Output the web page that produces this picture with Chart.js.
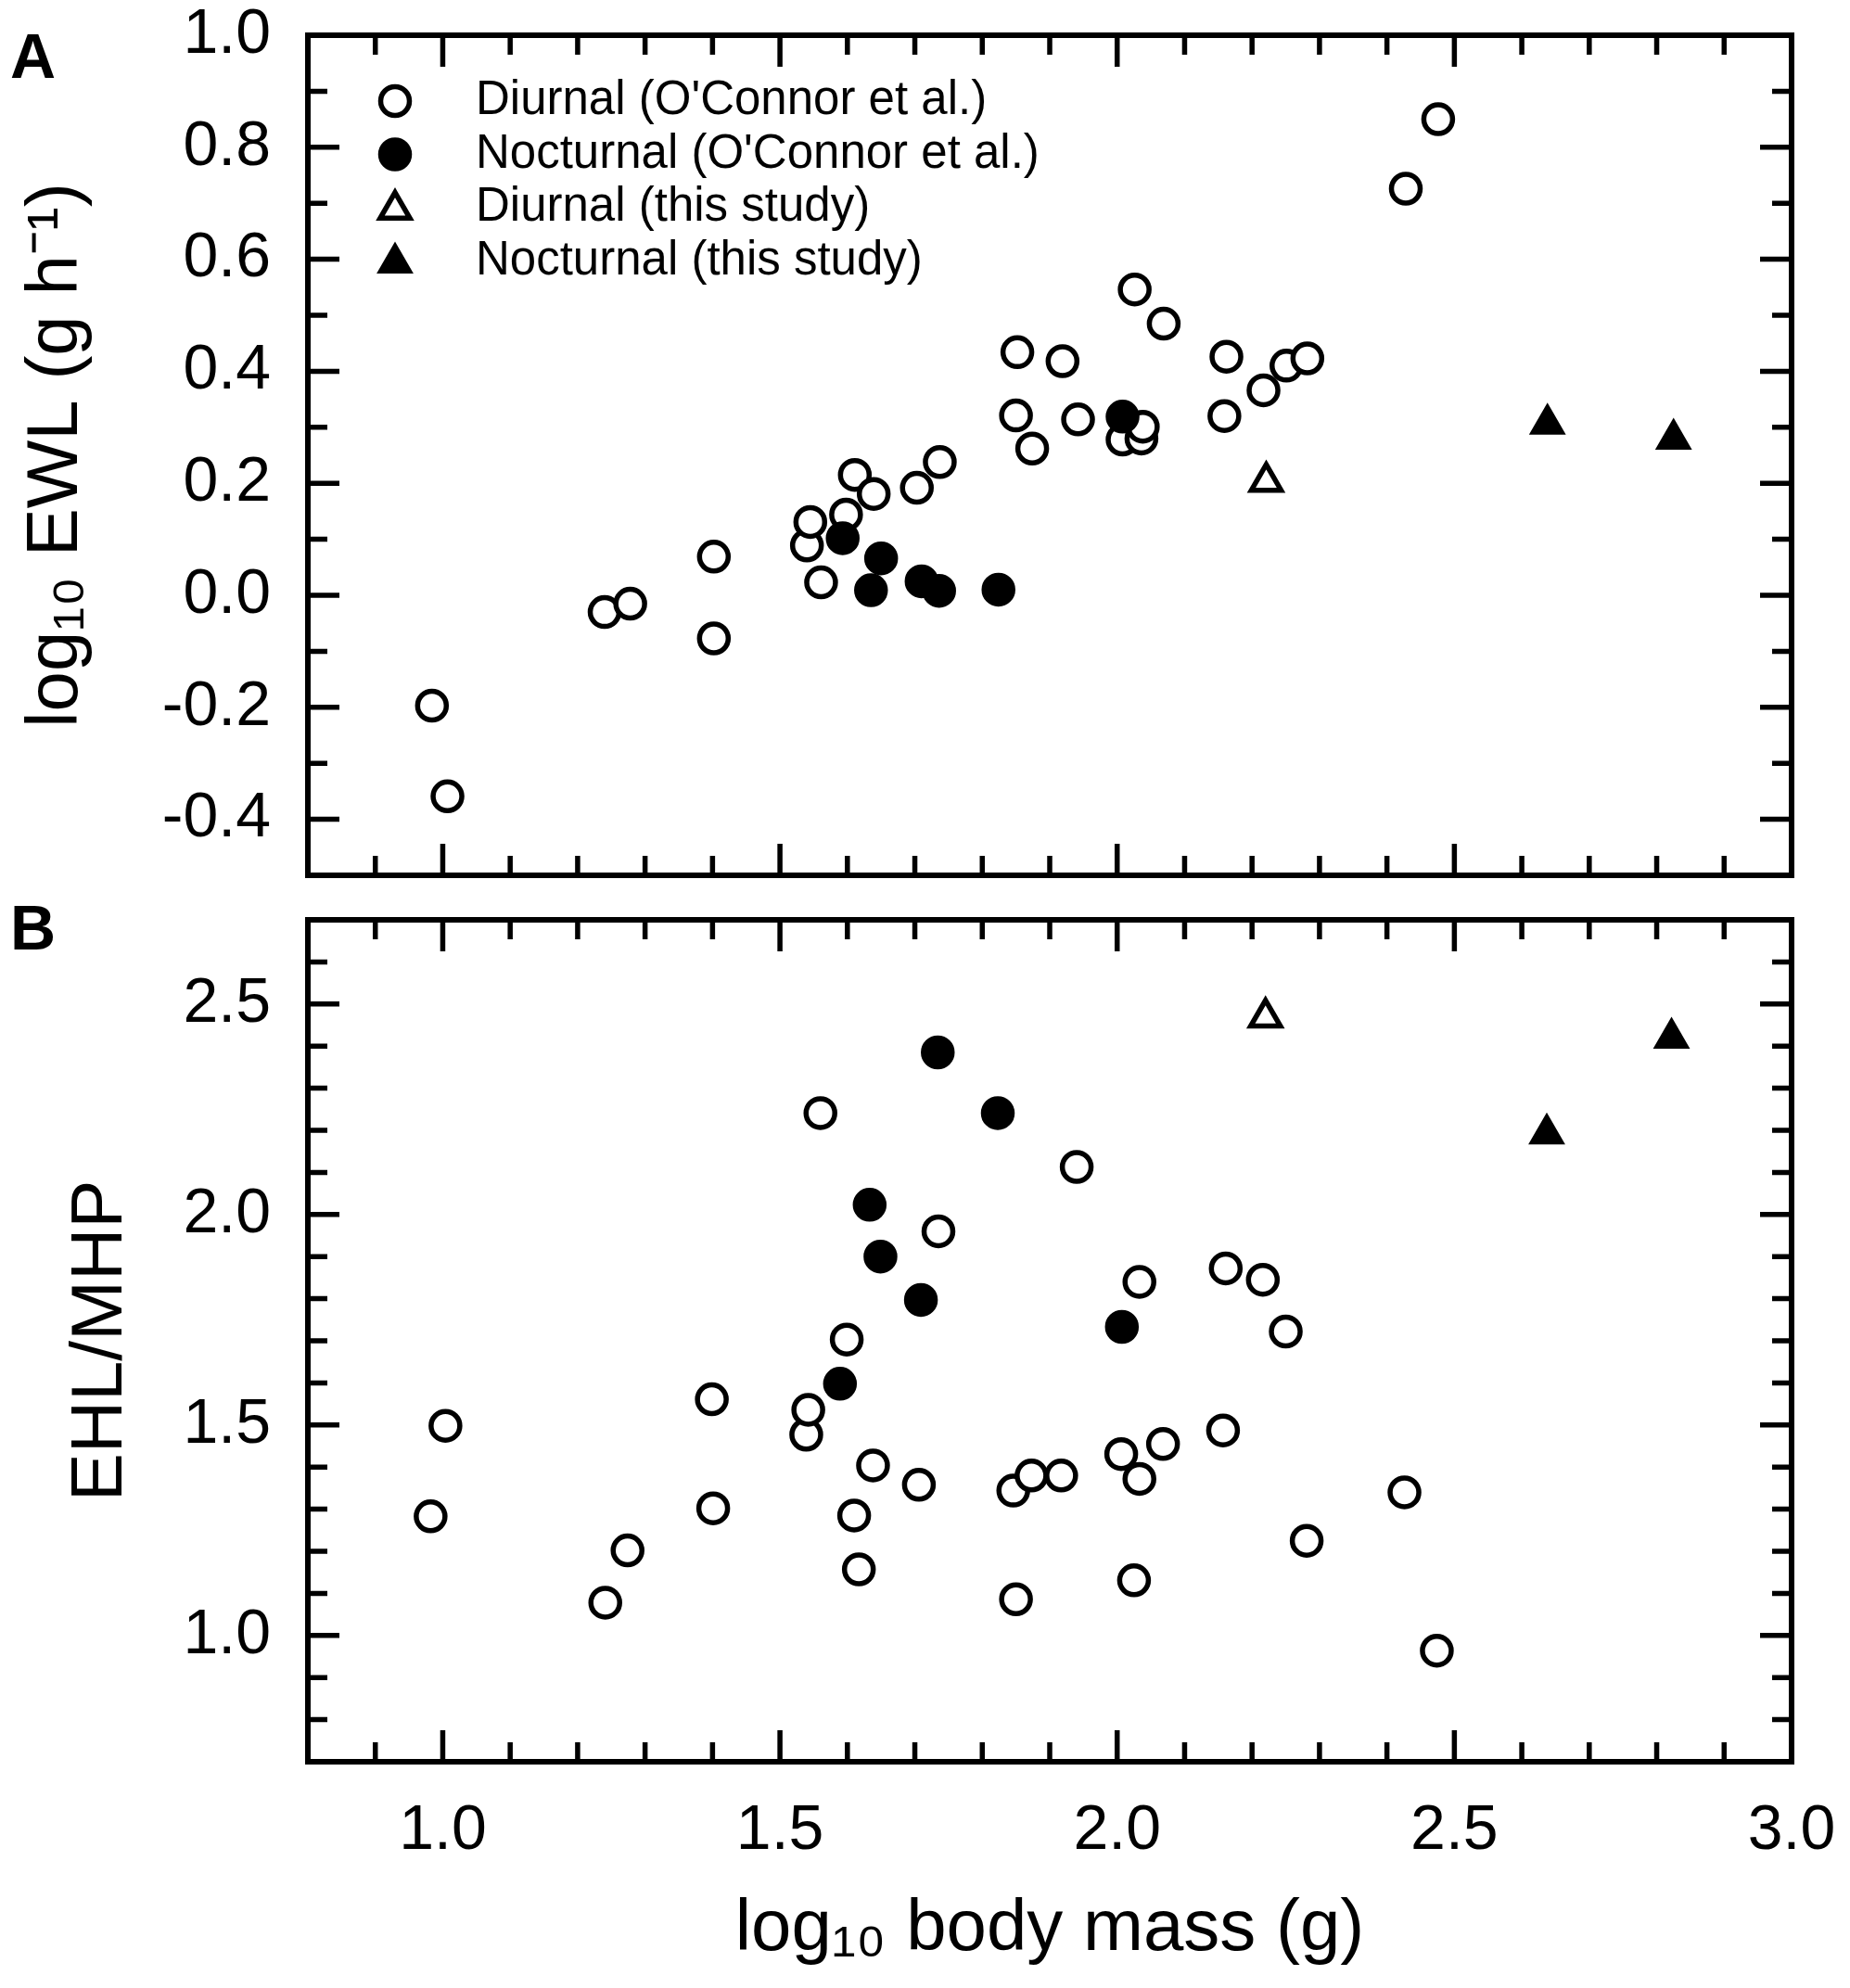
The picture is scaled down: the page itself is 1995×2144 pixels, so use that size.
<!DOCTYPE html>
<html>
<head>
<meta charset="utf-8">
<script src="https://cdn.jsdelivr.net/npm/chart.js@4.4.1/dist/chart.umd.min.js"></script>
<style>
  html, body { margin:0; padding:0; background:#fff; }
  #wrap { position:relative; width:1995px; height:2144px; background:#fff; overflow:hidden; }
  canvas { position:absolute; left:0; }
  .panel { position:absolute; font-family:'Liberation Sans', Arial, sans-serif; font-weight:bold; font-size:68px; line-height:68px; color:#000; }
</style>
</head>
<body>
<div id="wrap">
  <div class="panel" style="left:11px; top:26px;">A</div>
  <div class="panel" style="left:11px; top:966px;">B</div>
  <canvas id="cA" width="1995" height="968" style="top:0px;"></canvas>
  <canvas id="cB" width="1995" height="1176" style="top:968px;"></canvas>
</div>
<script>
// ---------- DATA ----------
const seriesLabels = ["Diurnal (O'Connor et al.)", "Nocturnal (O'Connor et al.)", "Diurnal (this study)", "Nocturnal (this study)"];

// Panel A: log10 EWL vs log10 body mass
const aDiurnalOC_x = [0.984, 1.007, 1.240, 1.278, 1.402, 1.402, 1.540, 1.545, 1.561, 1.598, 1.611, 1.639, 1.703, 1.737, 1.852, 1.850, 1.874, 1.919, 1.942, 2.026, 2.069, 2.008, 2.036, 2.038, 2.162, 2.159, 2.217, 2.251, 2.282, 2.428, 2.476];
const aDiurnalOC_y = [-0.197, -0.359, -0.030, -0.015, 0.069, -0.077, 0.089, 0.131, 0.023, 0.144, 0.215, 0.181, 0.192, 0.238, 0.434, 0.321, 0.262, 0.418, 0.314, 0.546, 0.485, 0.278, 0.280, 0.301, 0.426, 0.320, 0.366, 0.410, 0.423, 0.726, 0.850];
const aNocturnalOC_x = [1.593, 1.650, 1.635, 1.710, 1.736, 1.824, 2.008];
const aNocturnalOC_y = [0.102, 0.066, 0.009, 0.025, 0.008, 0.010, 0.319];
const aDiurnalTS_x = [2.221];
const aDiurnalTS_y = [0.203];
const aNocturnalTS_x = [2.638, 2.825];
const aNocturnalTS_y = [0.306, 0.279];

// Panel B: EHL/MHP vs log10 body mass
const bDiurnalOC_x = [0.982, 1.004, 1.241, 1.274, 1.399, 1.401, 1.539, 1.542, 1.560, 1.599, 1.610, 1.617, 1.638, 1.706, 1.735, 1.846, 1.873, 1.850, 1.917, 1.940, 2.006, 2.033, 2.033, 2.025, 2.068, 2.161, 2.216, 2.250, 2.157, 2.281, 2.426, 2.474];
const bDiurnalOC_y = [1.283, 1.498, 1.078, 1.202, 1.561, 1.302, 1.477, 1.536, 2.241, 1.703, 1.285, 1.157, 1.404, 1.358, 1.960, 1.344, 1.380, 1.086, 1.380, 2.113, 1.431, 1.372, 1.840, 1.131, 1.455, 1.872, 1.845, 1.722, 1.487, 1.225, 1.340, 0.964];
const bNocturnalOC_x = [1.589, 1.633, 1.649, 1.709, 1.734, 1.823, 2.007];
const bNocturnalOC_y = [1.598, 2.023, 1.900, 1.797, 2.385, 2.241, 1.733];
const bDiurnalTS_x = [2.220];
const bDiurnalTS_y = [2.468];
const bNocturnalTS_x = [2.637, 2.822];
const bNocturnalTS_y = [2.192, 2.419];

// Axes / ticks
const xRange = [0.8, 3.0];
const xTickLabels = [1.0, 1.5, 2.0, 2.5, 3.0];
const xTickMarks = [0.9, 1.0, 1.1, 1.2, 1.3, 1.4, 1.5, 1.6, 1.7, 1.8, 1.9, 2.0, 2.1, 2.2, 2.3, 2.4, 2.5, 2.6, 2.7, 2.8, 2.9];
const xMajorMarks = [1.0, 1.5, 2.0, 2.5];

const yRangeA = [-0.5, 1.0];
const yTickLabelsA = [-0.4, -0.2, 0.0, 0.2, 0.4, 0.6, 0.8, 1.0];
const yTickMarksA = [-0.4, -0.3, -0.2, -0.1, 0.0, 0.1, 0.2, 0.3, 0.4, 0.5, 0.6, 0.7, 0.8, 0.9];
const yMajorMarksA = [-0.4, -0.2, 0.0, 0.2, 0.4, 0.6, 0.8];

const yRangeB = [0.7, 2.7];
const yTickLabelsB = [1.0, 1.5, 2.0, 2.5];
const yTickMarksB = [0.8, 0.9, 1.0, 1.1, 1.2, 1.3, 1.4, 1.5, 1.6, 1.7, 1.8, 1.9, 2.0, 2.1, 2.2, 2.3, 2.4, 2.5, 2.6];
const yMajorMarksB = [1.0, 1.5, 2.0, 2.5];

const titles = {
  x: 'log\u2081\u2080 body mass (g)',
  yA: 'log\u2081\u2080 EWL (g h\u207B\u00B9)',
  yB: 'EHL/MHP'
};

// ---------- STYLE ----------
const FONT = "'Liberation Sans', Arial, sans-serif";
Chart.defaults.font.family = FONT;
Chart.defaults.color = '#000';

const styles = [
  {pointStyle:'circle', pointRadius:15.5, pointBorderWidth:5.5, pointBackgroundColor:'#fff', pointBorderColor:'#000', order:4},
  {pointStyle:'circle', pointRadius:15.5, pointBorderWidth:5.5, pointBackgroundColor:'#000', pointBorderColor:'#000', order:3},
  {pointStyle:'triangle', pointRadius:18.5, pointBorderWidth:5.5, pointBackgroundColor:'#fff', pointBorderColor:'#000', order:2},
  {pointStyle:'triangle', pointRadius:20, pointBorderWidth:3, pointBackgroundColor:'#000', pointBorderColor:'#000', order:1}
];

function pts(xs, ys) { return xs.map((x, i) => ({x: x, y: ys[i]})); }

function makeDatasets(groups) {
  return groups.map((g, i) => Object.assign({
    label: seriesLabels[i],
    data: pts(g[0], g[1]),
    pointHoverRadius: styles[i].pointRadius
  }, styles[i]));
}

// Frame + inward tick marks on all four sides, positioned by the chart's scales
const frameTicks = {
  id: 'frameTicks',
  afterDraw(chart, args, o) {
    const {ctx, chartArea: a} = chart;
    const xs = chart.scales.x, ys = chart.scales.y;
    const minor = 21, major = 34;
    ctx.save();
    ctx.strokeStyle = '#000';
    ctx.lineCap = 'butt';
    ctx.lineWidth = 5.5;
    ctx.beginPath();
    o.xMarks.forEach(v => {
      const p = xs.getPixelForValue(v);
      const L = o.xMajor.includes(v) ? major : minor;
      ctx.moveTo(p, a.bottom); ctx.lineTo(p, a.bottom - L);
      ctx.moveTo(p, a.top); ctx.lineTo(p, a.top + L);
    });
    o.yMarks.forEach(v => {
      const p = ys.getPixelForValue(v);
      const L = o.yMajor.includes(v) ? major : minor;
      ctx.moveTo(a.left, p); ctx.lineTo(a.left + L, p);
      ctx.moveTo(a.right, p); ctx.lineTo(a.right - L, p);
    });
    ctx.stroke();
    ctx.lineWidth = 6;
    ctx.lineJoin = 'miter';
    ctx.strokeRect(a.left, a.top, a.right - a.left, a.bottom - a.top);
    ctx.restore();
  }
};

// In-plot legend (top-left of panel A)
const legendBox = {
  id: 'legendBox',
  afterDraw(chart, args, o) {
    if (!o.show) return;
    const {ctx, chartArea: a} = chart;
    ctx.save();
    ctx.font = o.fontSize + 'px ' + FONT;
    ctx.textBaseline = 'middle';
    ctx.textAlign = 'left';
    chart.data.datasets.forEach((ds, i) => {
      const cy = a.top + o.top + i * o.step;
      const cx = a.left + o.markerX;
      ctx.fillStyle = ds.pointBackgroundColor;
      ctx.strokeStyle = ds.pointBorderColor;
      ctx.lineWidth = ds.pointBorderWidth;
      Chart.helpers.drawPoint(ctx, {pointStyle: ds.pointStyle, radius: ds.pointRadius, borderWidth: ds.pointBorderWidth, rotation: 0}, cx, cy + (ds.pointStyle === 'triangle' ? 2 : 0));
      ctx.fillStyle = '#000';
      ctx.fillText(ds.label, a.left + o.textX, cy);
    });
    ctx.restore();
  }
};

const tickFont = {size: 68, lineHeight: 1.0};
const titleFont = {size: 78};

function fixed(v) { return Number(v).toFixed(1); }

// ---------- PANEL A ----------
new Chart(document.getElementById('cA'), {
  type: 'scatter',
  data: { datasets: makeDatasets([
    [aDiurnalOC_x, aDiurnalOC_y], [aNocturnalOC_x, aNocturnalOC_y],
    [aDiurnalTS_x, aDiurnalTS_y], [aNocturnalTS_x, aNocturnalTS_y]
  ]) },
  options: {
    responsive: false, animation: false, devicePixelRatio: 1,
    layout: { padding: {top: 38, right: 63, bottom: 13, left: 0} },
    plugins: {
      legend: {display: false}, tooltip: {enabled: false},
      frameTicks: {xMarks: xTickMarks, xMajor: xMajorMarks, yMarks: yTickMarksA, yMajor: yMajorMarksA},
      legendBox: {show: true, fontSize: 51, markerX: 94, textX: 181, top: 71, step: 57.5}
    },
    scales: {
      x: {
        type: 'linear', min: xRange[0], max: xRange[1],
        ticks: {display: false},
        grid: {display: false, drawTicks: false}, border: {display: false},
        afterFit(s) { s.height = 0; s.paddingLeft = 0; s.paddingRight = 0; }
      },
      y: {
        type: 'linear', min: yRangeA[0], max: yRangeA[1],
        afterBuildTicks(s) { s.ticks = yTickLabelsA.map(v => ({value: v})); },
        ticks: {font: tickFont, color: '#000', padding: 40, callback: fixed, autoSkip: false},
        grid: {display: false, drawTicks: false}, border: {display: false},
        title: {display: true, text: titles.yA, font: titleFont, color: '#000', padding: {top: 15, bottom: 0}},
        afterFit(s) { s.width = 332; s.paddingTop = 0; s.paddingBottom = 0; }
      }
    }
  },
  plugins: [frameTicks, legendBox]
});

// ---------- PANEL B ----------
new Chart(document.getElementById('cB'), {
  type: 'scatter',
  data: { datasets: makeDatasets([
    [bDiurnalOC_x, bDiurnalOC_y], [bNocturnalOC_x, bNocturnalOC_y],
    [bDiurnalTS_x, bDiurnalTS_y], [bNocturnalTS_x, bNocturnalTS_y]
  ]) },
  options: {
    responsive: false, animation: false, devicePixelRatio: 1,
    layout: { padding: {top: 16, right: 63, bottom: 0, left: 0} },
    plugins: {
      legend: {display: false}, tooltip: {enabled: false},
      frameTicks: {xMarks: xTickMarks, xMajor: xMajorMarks, yMarks: yTickMarksB, yMajor: yMajorMarksB},
      legendBox: {show: false}
    },
    scales: {
      x: {
        type: 'linear', min: xRange[0], max: xRange[1],
        afterBuildTicks(s) { s.ticks = xTickLabels.map(v => ({value: v})); },
        ticks: {font: tickFont, color: '#000', padding: 41, callback: fixed, autoSkip: false, maxRotation: 0},
        grid: {display: false, drawTicks: false}, border: {display: false},
        title: {display: true, text: titles.x, font: titleFont, color: '#000', padding: {top: 0, bottom: 16}},
        afterFit(s) { s.height = 244; s.paddingLeft = 0; s.paddingRight = 0; }
      },
      y: {
        type: 'linear', min: yRangeB[0], max: yRangeB[1],
        afterBuildTicks(s) { s.ticks = yTickLabelsB.map(v => ({value: v})); },
        ticks: {font: tickFont, color: '#000', padding: 40, callback: fixed, autoSkip: false},
        grid: {display: false, drawTicks: false}, border: {display: false},
        title: {display: true, text: titles.yB, font: titleFont, color: '#000', padding: {top: 63, bottom: 0}},
        afterFit(s) { s.width = 332; s.paddingTop = 0; s.paddingBottom = 0; }
      }
    }
  },
  plugins: [frameTicks, legendBox]
});
</script>
</body>
</html>
